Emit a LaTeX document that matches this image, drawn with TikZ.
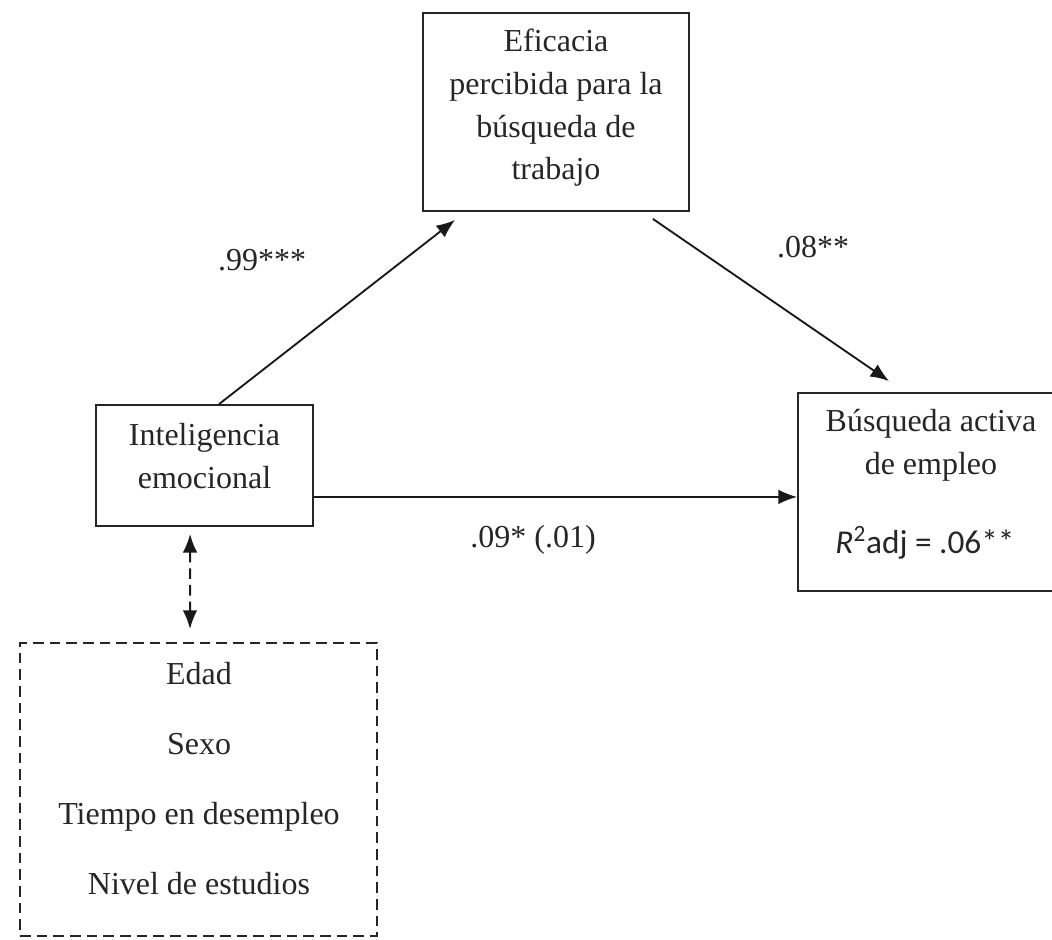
\documentclass[tikz,border=0pt]{standalone}
\usepackage{fontspec}
\setmainfont{Liberation Serif}
\newfontfamily\carlito{Carlito}
\usetikzlibrary{arrows.meta,calc}
\tikzset{
  box/.style={draw=black!85, line width=1.4pt, inner sep=0pt},
  dbox/.style={draw=black!85, line width=1.5pt, inner sep=0pt, dash pattern=on 8pt off 4.5pt},
  txt/.style={font=\fontsize{24}{32}\selectfont, align=center, text=black!85, inner sep=0pt},
  lbl/.style={font=\fontsize{24}{32}\selectfont, text=black!85, inner sep=0pt},
  arr/.style={draw=black!90, line width=1.4pt, -{Latex[length=14pt,width=11pt]}},
  darr/.style={draw=black!90, line width=1.5pt, dash pattern=on 8pt off 4.5pt, {Latex[length=14pt,width=11pt]}-{Latex[length=14pt,width=11pt]}}
}
\begin{document}
\begin{tikzpicture}[x=0.75pt,y=-0.75pt]
\useasboundingbox (0,0) rectangle (1052,939);
% boxes
\node[box, minimum width=199.5pt, minimum height=148.5pt] (eff) at (556,112) {};
\node[box, minimum width=162.75pt, minimum height=90.75pt] (ie) at (204.5,465.5) {};
\node[box, minimum width=199.5pt, minimum height=148.5pt] (ba) at (931,492) {};
\node[dbox, minimum width=267.75pt, minimum height=219.75pt] (ctrl) at (198.5,789.5) {};
% texts
\node[txt] (efft) at (556,108) {Eficacia\\percibida para la\\búsqueda de\\trabajo};
\node[txt] (iet) at (204.5,456) {Inteligencia\\emocional};
\node[txt] (bat) at (931,445) {Búsqueda activa\\de empleo};
\node[inner sep=0pt, text=black!85, font=\carlito\fontsize{25}{30}\selectfont] (r2) at (925,543) {{\itshape R}\textsuperscript{2}adj = .06**};
\node[txt, font=\fontsize{24}{52.5}\selectfont] (ctrlt) at (199,779) {Edad\\Sexo\\Tiempo en desempleo\\Nivel de estudios};
% connector points
\coordinate (a1s) at ($(ie.north west)+(124,0)$);
\coordinate (a1e) at ($(eff.south west)+(33,8)$);
\coordinate (a2s) at ($(eff.south east)+(-37,7)$);
\coordinate (a2e) at ($(ba.north west)+(92,-11)$);
\coordinate (a3s) at ($(ie.south east)+(0,-30)$);
\coordinate (ds) at ($(ie.south west)+(95,7)$);
\coordinate (de) at ($(ctrl.north west)+(171,-13)$);
% arrows
\draw[arr] (a1s) -- (a1e);
\draw[arr] (a2s) -- (a2e);
\draw[arr] (a3s) -- (a3s -| ba.west);
\draw[darr] (ds) -- (de);
% labels
\node[lbl] (l1) at (262,260) {.99***};
\node[lbl] (l2) at (813,247) {.08**};
\node[lbl] (l3) at (533,540) {.09* (.01)};
\end{tikzpicture}
\end{document}
